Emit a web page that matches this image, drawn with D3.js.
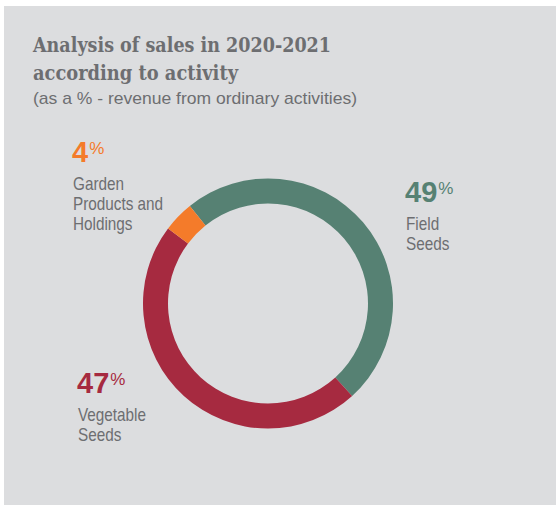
<!DOCTYPE html>
<html>
<head>
<meta charset="utf-8">
<script src="https://cdn.jsdelivr.net/npm/d3@7"></script>
<style>
  html, body { margin: 0; padding: 0; background: #ffffff; }
  svg { display: block; }
</style>
</head>
<body>
<svg id="chart" width="556" height="505"></svg>
<script>
// Sales breakdown by activity, 2020-2021 (% of revenue from ordinary activities)
const categories = ["Field Seeds", "Vegetable Seeds", "Garden Products and Holdings"];
const shares = [49, 47, 4];
const sliceColors = ["#568173", "#a62a40", "#f47b2a"];
const labelLines = [["Field", "Seeds"], ["Vegetable", "Seeds"], ["Garden", "Products and", "Holdings"]];

const titleLines = ["Analysis of sales in 2020-2021", "according to activity"];
const subtitle = "(as a % - revenue from ordinary activities)";

const W = 556, H = 505;
const textGray = "#6d6e71";
const svg = d3.select("#chart");

// panel background
svg.append("rect")
  .attr("x", 4).attr("y", 6)
  .attr("width", W - 4).attr("height", H - 6)
  .attr("fill", "#dcdddf");

// title block
const title = svg.append("g").attr("fill", textGray);
title.selectAll("text.t")
  .data(titleLines)
  .join("text")
  .attr("class", "t")
  .attr("x", 33)
  .attr("y", (d, i) => 52 + i * 28)
  .attr("font-family", "'DejaVu Serif', serif")
  .attr("font-weight", "bold")
  .attr("font-size", 20)
  .attr("textLength", (d, i) => i === 0 ? 298 : 205)
  .attr("lengthAdjust", "spacingAndGlyphs")
  .text(d => d);

title.append("text")
  .attr("x", 33).attr("y", 104)
  .attr("font-family", "'Liberation Sans', Arial, sans-serif")
  .attr("font-size", 17)
  .attr("textLength", 324)
  .attr("lengthAdjust", "spacingAndGlyphs")
  .text(subtitle);

// donut
const cx = 268, cy = 303.5, rOuter = 125, rInner = 100;
const start = -38.7 * Math.PI / 180;
const pie = d3.pie().sort(null).value(d => d)
  .startAngle(start).endAngle(start + 2 * Math.PI);
const arc = d3.arc().innerRadius(rInner).outerRadius(rOuter);
const color = d3.scaleOrdinal().domain(categories).range(sliceColors);

svg.append("g")
  .attr("transform", `translate(${cx},${cy})`)
  .selectAll("path")
  .data(pie(shares))
  .join("path")
  .attr("d", arc)
  .attr("fill", (d, i) => color(categories[i]));

// value labels with their category names
const labelLayout = [
  { x: 405, y: 202, lineY: 230 },
  { x: 77, y: 393, lineY: 421 },
  { x: 72, y: 162, lineY: 190 }
];
const numSize = 29;

categories.forEach((c, i) => {
  const L = labelLayout[i];
  const g = svg.append("g");
  const t = g.append("text")
    .attr("x", L.x).attr("y", L.y)
    .attr("fill", color(c))
    .attr("font-family", "'Liberation Sans', Arial, sans-serif");
  t.append("tspan")
    .attr("font-weight", "bold")
    .attr("font-size", numSize)
    .text(shares[i]);
  t.append("tspan")
    .attr("font-size", 17)
    .attr("dy", -8)
    .attr("dx", 1)
    .text("%");

  const names = g.append("g")
    .attr("transform", `translate(${L.x + 1},0) scale(0.85,1)`);
  names.selectAll("text")
    .data(labelLines[i])
    .join("text")
    .attr("x", 0)
    .attr("y", (d, j) => L.lineY + j * 20)
    .attr("fill", textGray)
    .attr("font-family", "'Liberation Sans', Arial, sans-serif")
    .attr("font-size", 18)
    .text(d => d);
});
</script>
</body>
</html>
